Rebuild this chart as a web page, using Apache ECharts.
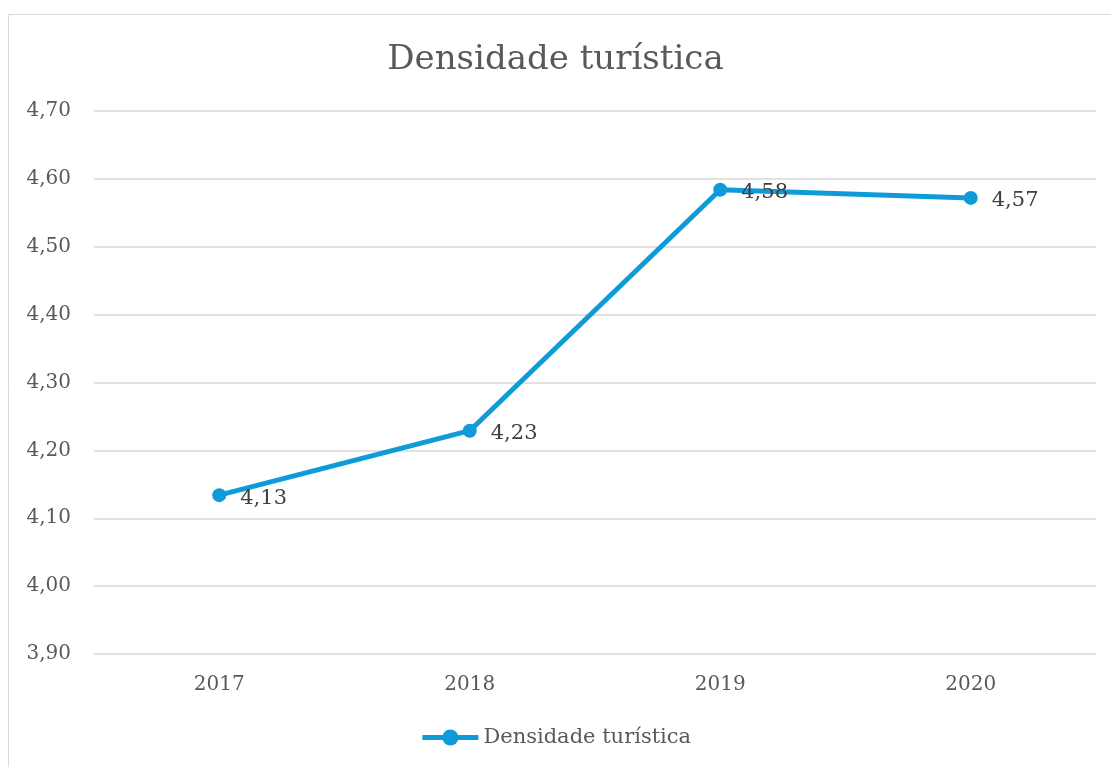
<!DOCTYPE html>
<html>
<head>
<meta charset="utf-8">
<script src="https://cdn.jsdelivr.net/npm/echarts@6/dist/echarts.min.js"></script>
<style>
html,body{margin:0;padding:0;background:#fff;}
#chart{width:1111px;height:767px;}
</style>
</head>
<body>
<div id="chart"></div>
<script>
const categories = ['2017', '2018', '2019', '2020'];
const seriesName = 'Densidade turística';
const values = [4.134, 4.229, 4.584, 4.572];
const yMin = 3.9, yMax = 4.7, yStep = 0.1;

const fmt = v => v.toFixed(2).replace('.', ',');
const serif = '"DejaVu Serif", serif';

const chart = echarts.init(document.getElementById('chart'));
chart.setOption({
  animation: false,
  backgroundColor: '#ffffff',
  graphic: [{
    type: 'rect',
    shape: { x: 8.5, y: 14.5, width: 1120, height: 780 },
    style: { fill: 'none', stroke: '#D9D9D9', lineWidth: 1 },
    silent: true
  }],
  title: {
    text: 'Densidade turística',
    left: 'center',
    top: 38,
    textStyle: { fontFamily: serif, fontSize: 34, fontWeight: 'normal', color: '#595959' }
  },
  legend: {
    bottom: 14,
    left: 'center',
    itemWidth: 56,
    itemHeight: 20,
    itemGap: 6,
    lineStyle: { width: 5, color: '#0E9BD8' },
    itemStyle: { color: '#0E9BD8' },
    textStyle: { fontFamily: serif, fontSize: 21, color: '#595959' },
    data: [{ name: seriesName }]
  },
  grid: { left: 94, right: 15, top: 111, bottom: 113, containLabel: false },
  xAxis: {
    type: 'category',
    data: categories,
    boundaryGap: true,
    axisLine: { show: false },
    axisTick: { show: false },
    axisLabel: { margin: 21, fontFamily: serif, fontSize: 20, color: '#595959' }
  },
  yAxis: {
    type: 'value',
    min: yMin,
    max: yMax,
    interval: yStep,
    axisLine: { show: false },
    axisTick: { show: false },
    splitLine: { lineStyle: { color: '#D9D9D9', width: 1.5 } },
    axisLabel: { margin: 23, fontFamily: serif, fontSize: 20, color: '#595959', formatter: v => fmt(v) }
  },
  series: [{
    name: seriesName,
    type: 'line',
    data: values,
    symbol: 'circle',
    symbolSize: 14,
    lineStyle: { color: '#0E9BD8', width: 5 },
    itemStyle: { color: '#0E9BD8' },
    label: {
      show: true,
      position: 'right',
      distance: 14,
      offset: [0, 3],
      fontFamily: serif,
      fontSize: 21,
      color: '#404040',
      formatter: p => fmt(p.value)
    }
  }]
});
</script>
</body>
</html>
